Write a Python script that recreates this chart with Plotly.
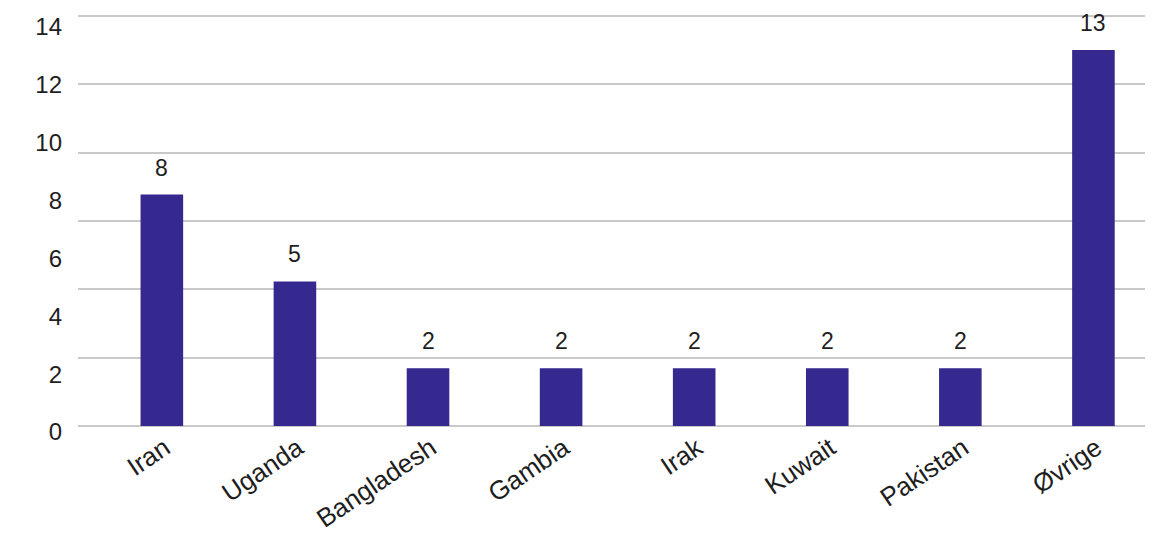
import plotly.graph_objects as go

categories = ["Iran", "Uganda", "Bangladesh", "Gambia", "Irak", "Kuwait", "Pakistan", "Øvrige"]
values = [8, 5, 2, 2, 2, 2, 2, 13]
y_ticks = [0, 2, 4, 6, 8, 10, 12, 14]

BAR = "#35298f"
FONT = "Liberation Sans, Arial, Helvetica, sans-serif"
TXT = "#1e1e1e"
GRID = "#c9c9c9"

fig = go.Figure()
fig.add_trace(go.Bar(
    x=categories, y=values,
    marker=dict(color=BAR, line=dict(width=0)),
    hoverinfo="skip",
))
# helper trace so the gridline axis (y2) is drawn; invisible
fig.add_trace(go.Scatter(
    x=categories, y=values, yaxis="y2",
    mode="markers", marker=dict(opacity=0),
    hoverinfo="skip", showlegend=False,
))

for c, v in zip(categories, values):
    fig.add_annotation(
        x=c, y=v, text=str(v), showarrow=False,
        yanchor="bottom", yshift=12,
        font=dict(family=FONT, size=23, color=TXT),
    )

fig.update_layout(
    width=1153, height=537,
    margin=dict(l=70, r=13, t=7, b=119),
    paper_bgcolor="white", plot_bgcolor="white",
    bargap=0.68,
    showlegend=False,
    font=dict(family=FONT, size=20, color=TXT),
    yaxis2=dict(
        overlaying="y", side="right",
        range=[0, 6.015], dtick=1,
        showticklabels=False, ticks="",
        showgrid=True, gridcolor=GRID, gridwidth=2,
        zeroline=True, zerolinecolor=GRID, zerolinewidth=2,
        showline=False, automargin=False, fixedrange=True,
    ),
)
fig.update_xaxes(
    range=[-0.63, 7.41],
    tickangle=-34,
    automargin=False,
    showgrid=False, showline=False, ticks="",
    ticklabelshift=3,
    ticklabelstandoff=1,
    tickfont=dict(family=FONT, size=26, color=TXT),
)
fig.update_layout(yaxis=dict(
    range=[0, 14.21],
    tickvals=y_ticks,
    automargin=False,
    showgrid=False, zeroline=False,
    showline=False, ticks="",
    ticklabelstandoff=15,
    ticklabeloverflow="allow",
    ticklabelshift=6,
    tickfont=dict(family=FONT, size=24, color=TXT),
))

fig.write_html("out.html")
